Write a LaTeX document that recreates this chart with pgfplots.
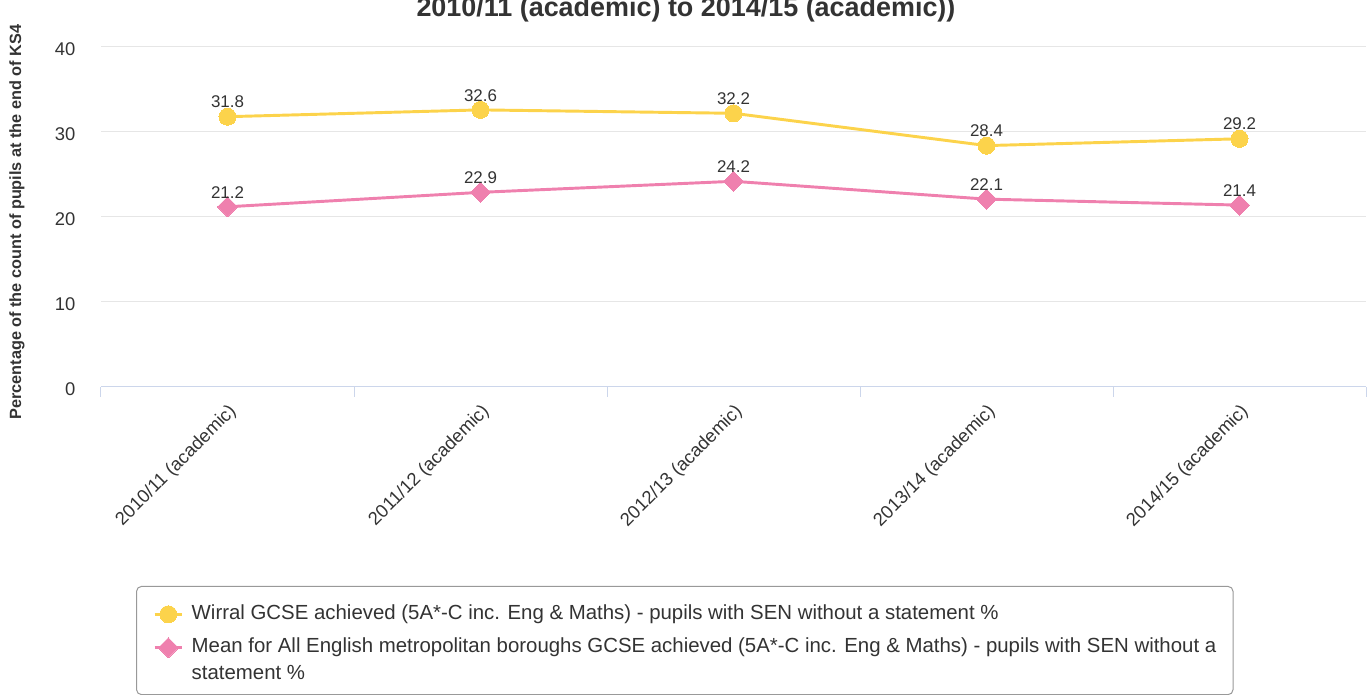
\documentclass[border=0pt]{standalone}
\usepackage{pgfplots}
\pgfplotsset{compat=1.18}
\usepackage{fontspec}
\setmainfont{Liberation Sans}
\definecolor{ycol}{HTML}{FCD34B}
\definecolor{pcol}{HTML}{EF80AE}
\definecolor{gridc}{HTML}{E6E6E6}
\definecolor{axisc}{HTML}{CCD6EB}
\definecolor{txt}{HTML}{333333}
\definecolor{lgd}{HTML}{999999}
\begin{document}
\begin{tikzpicture}
\path[use as bounding box] (0,0) rectangle (1029pt,521.25pt);
\clip (0,0) rectangle (1029pt,521.25pt);
\node[font=\bfseries\fontsize{20.2}{24}\selectfont, text=txt, anchor=base] at (514.5pt,508.5pt) {2010/11 (academic) to 2014/15 (academic))};
\begin{axis}[
  at={(75.75pt,231pt)}, anchor=south west,
  width=948.75pt, height=255pt, scale only axis,
  xmin=-0.5, xmax=4.5, ymin=0, ymax=40,
  ytick={0,10,20,30,40},
  xtick={0,1,2,3,4},
  xticklabels={2010/11 (academic),2011/12 (academic),2012/13 (academic),2013/14 (academic),2014/15 (academic)},
  minor xtick={-0.5,0.5,1.5,2.5,3.5,4.5},
  major x tick style={draw=none},
  minor x tick style={draw=axisc, line width=0.75pt},
  minor tick length=7.5pt,
  tick align=outside,
  xtick pos=bottom,
  ytick style={draw=none},
  ymajorgrids, grid style={draw=gridc, line width=0.75pt},
  axis x line*=bottom, axis y line*=left,
  x axis line style={draw=axisc, line width=0.75pt, -},
  y axis line style={draw=none},
  /pgf/number format/assume math mode=true,
  ticklabel style={font=\fontsize{13.8}{16}\selectfont, text=txt},
  yticklabel style={anchor=east, xshift=-11.5pt, yshift=-2pt},
  xticklabel style={anchor=east, xshift=4.5pt, yshift=-12pt, rotate=45, inner sep=0pt},
  ylabel={Percentage of the count of pupils at the end of KS4},
  every axis y label/.style={at={(axis description cs:-0.0665,0.485)}, rotate=90, anchor=center, font=\bfseries\fontsize{12.2}{14}\selectfont, text=txt},
  nodes near coords,
  nodes near coords style={/pgf/number format/.cd, fixed, fixed zerofill, precision=1, assume math mode=true, /tikz/.cd, font=\fontsize{12.7}{14}\selectfont, text=txt, anchor=south, inner sep=0pt, yshift=6.5pt},
  legend image code/.code={\draw[mark repeat=2, mark phase=2, #1] plot coordinates {(0pt,0pt) (10.25pt,0pt) (20.5pt,0pt)};},
  legend style={at={(axis description cs:0.0277,-0.585)}, anchor=north west, draw=lgd, rounded corners=3.75pt, line width=0.75pt, inner xsep=12.5pt, inner ysep=8.2pt, row sep=4.8pt, font=\fontsize{15.3}{18}\selectfont, text=txt, cells={anchor=west}, nodes={inner sep=0pt, text height=11.2pt, text depth=3.5pt}, /tikz/column 1/.style={column sep=6.2pt}},
]
\addplot[color=ycol, line width=2.2pt, mark=*, mark size=6.4pt, mark options={fill=ycol, draw=ycol, line width=0pt}] coordinates {(0,31.8) (1,32.6) (2,32.2) (3,28.4) (4,29.2)};
\addlegendentry[inner ysep=5.4pt]{Wirral GCSE achieved (5A*-C inc. Eng \& Maths) - pupils with SEN without a statement \%}
\addplot[color=pcol, line width=2.2pt, mark=square*, mark size=5.3pt, mark options={rotate=45, fill=pcol, draw=pcol, line width=0pt}] coordinates {(0,21.2) (1,22.9) (2,24.2) (3,22.1) (4,21.4)};
\addlegendentry{Mean for All English metropolitan boroughs GCSE achieved (5A*-C inc. Eng \& Maths) - pupils with SEN without a}
\addlegendimage{empty legend}
\addlegendentry{statement \%}
\end{axis}
\end{tikzpicture}
\end{document}
